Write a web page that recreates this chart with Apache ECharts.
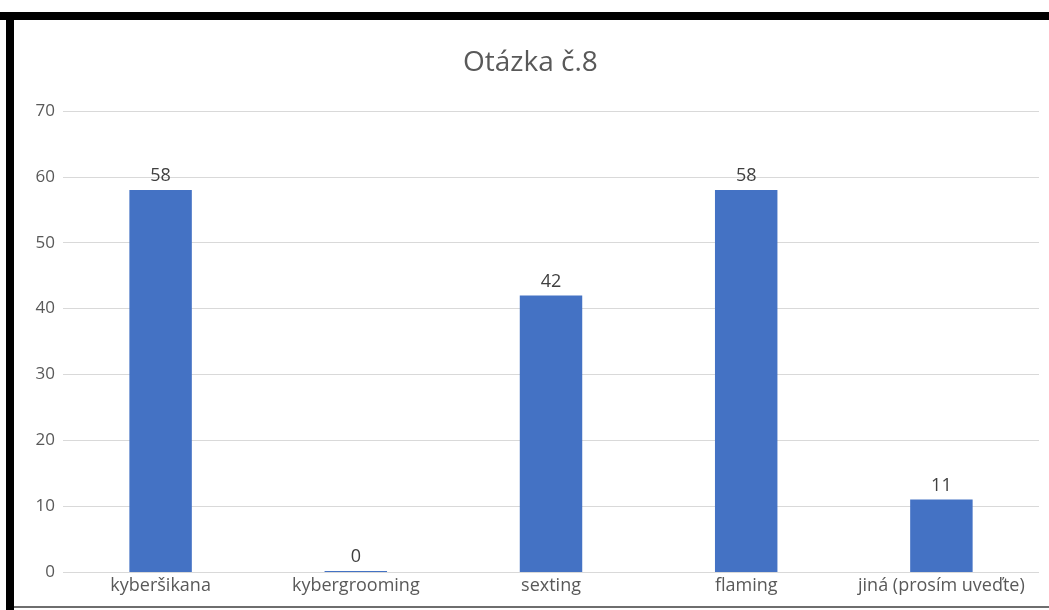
<!DOCTYPE html>
<html>
<head>
<meta charset="utf-8">
<style>
  html, body { margin: 0; padding: 0; background: #fff; }
  #chart { width: 1049px; height: 610px; }
</style>
<script src="https://cdn.jsdelivr.net/npm/echarts@6/dist/echarts.min.js"></script>
</head>
<body>
<div id="chart"></div>
<script>
// Survey answers for question 8
const categories = ['kyberšikana', 'kybergrooming', 'sexting', 'flaming', 'jiná (prosím uveďte)'];
const counts = [58, 0, 42, 58, 11];
const yTicks = [0, 10, 20, 30, 40, 50, 60, 70];

const chart = echarts.init(document.getElementById('chart'), null, { renderer: 'canvas' });

chart.setOption({
  animation: false,
  backgroundColor: '#ffffff',
  title: {
    text: 'Otázka č.8',
    left: 463,
    top: 49,
    padding: 0,
    textStyle: {
      fontFamily: 'Open Sans',
      fontSize: 28,
      fontWeight: 'normal',
      color: '#595959'
    }
  },
  grid: { left: 63, right: 10, top: 111, bottom: 38, containLabel: false },
  xAxis: {
    type: 'category',
    data: categories,
    axisLine: { show: false },
    axisTick: { show: false },
    axisLabel: {
      fontFamily: 'Open Sans',
      fontSize: 18,
      color: '#595959',
      margin: 5,
      interval: 0
    }
  },
  yAxis: {
    type: 'value',
    min: yTicks[0],
    max: yTicks[yTicks.length - 1],
    interval: 10,
    axisLine: { show: false },
    axisTick: { show: false },
    axisLabel: {
      fontFamily: 'Open Sans',
      fontSize: 17,
      color: '#595959',
      margin: 8
    },
    splitLine: { lineStyle: { color: '#d9d9d9', width: 1 } }
  },
  series: [{
    type: 'bar',
    data: counts,
    barWidth: '32%',
    barMinHeight: 1,
    itemStyle: { color: '#4472c4' },
    label: {
      show: true,
      position: 'top',
      distance: 5,
      fontFamily: 'Open Sans',
      fontSize: 18,
      fontWeight: 500,
      color: '#404040'
    }
  }],
  graphic: [
    // frame around the chart
    { type: 'rect', shape: { x: 0, y: 12, width: 1049, height: 8 }, style: { fill: '#000' }, silent: true },
    { type: 'rect', shape: { x: 6, y: 12, width: 8, height: 598 }, style: { fill: '#000' }, silent: true },
    { type: 'rect', shape: { x: 14, y: 606, width: 1035, height: 2 }, style: { fill: '#6e6e6e' }, silent: true }
  ]
});
</script>
</body>
</html>
